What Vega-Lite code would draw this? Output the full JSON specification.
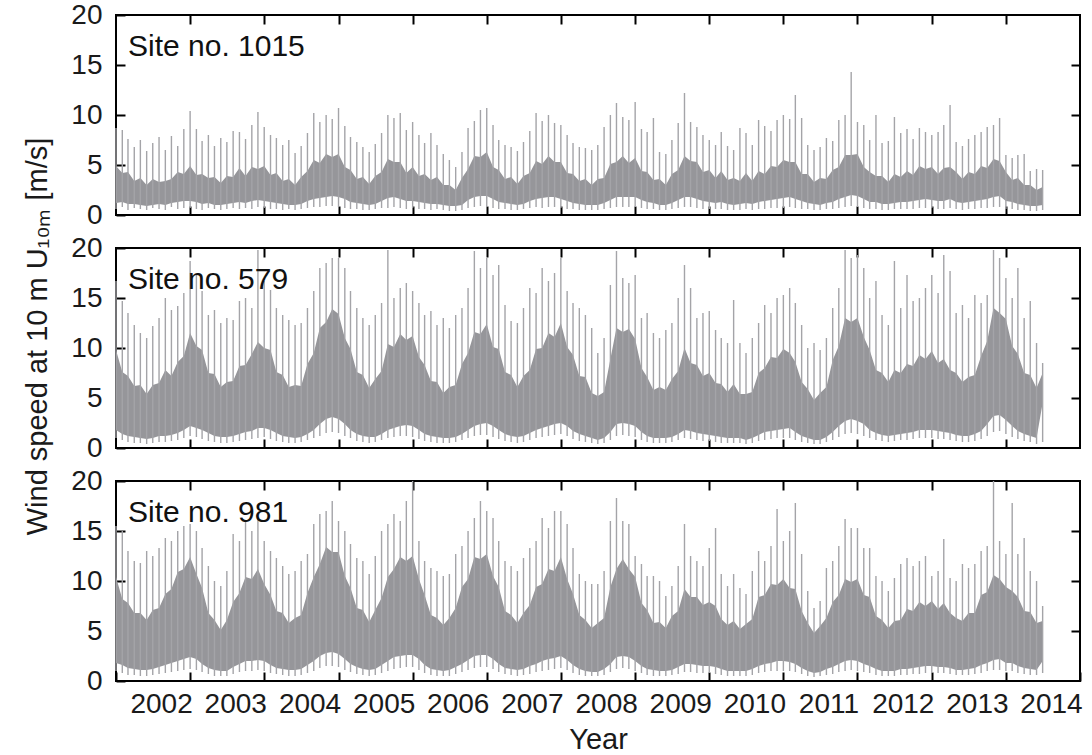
{
"$schema": "https://vega.github.io/schema/vega-lite/v6.json",
"padding": {"left": 22, "top": 0, "right": 8, "bottom": 0},
"spacing": 33,
"bounds": "flush",
"config": {
  "font": "Liberation Sans",
  "view": {"stroke": "#000", "strokeWidth": 2},
  "axis": {"domain": false, "grid": false, "ticks": true, "tickSize": -9, "tickWidth": 2, "tickColor": "#000", "labelFontSize": 28, "labelColor": "#1a1a1a", "labelFont": "Liberation Sans", "titleFont": "Liberation Sans", "titleFontSize": 29, "titleFontWeight": "normal", "titleColor": "#1a1a1a", "labelPadding": 23, "labelFlush": false, "labelOverlap": false},
  "axisBottom": {"labelPadding": 18},
  "title": {"font": "Liberation Sans", "fontSize": 30, "fontWeight": "normal", "color": "#111", "anchor": "start", "offset": -61, "dx": 12, "frame": "group"}
},
"datasets": {
"site1015": [
{"date":"2002-01","min":0.6,"low":1.2,"high":4.9,"peak":8.7},{"date":"2002-02","min":0.8,"low":1.3,"high":4.2,"peak":8.5},{"date":"2002-03","min":0.5,"low":1.1,"high":4.3,"peak":7.6},{"date":"2002-04","min":0.7,"low":1.1,"high":3.4,"peak":6.8},{"date":"2002-05","min":0.6,"low":1.0,"high":3.7,"peak":7.5},{"date":"2002-06","min":0.5,"low":0.9,"high":3.0,"peak":6.4},{"date":"2002-07","min":0.7,"low":1.0,"high":3.6,"peak":7.2},{"date":"2002-08","min":0.6,"low":1.1,"high":3.3,"peak":7.8},{"date":"2002-09","min":0.5,"low":1.0,"high":3.4,"peak":6.5},{"date":"2002-10","min":0.8,"low":1.2,"high":3.6,"peak":7.9},{"date":"2002-11","min":0.6,"low":1.3,"high":4.3,"peak":6.9},{"date":"2002-12","min":0.7,"low":1.4,"high":4.1,"peak":8.6},
{"date":"2003-01","min":0.7,"low":1.4,"high":4.9,"peak":10.4},{"date":"2003-02","min":0.6,"low":1.3,"high":4.0,"peak":8.6},{"date":"2003-03","min":0.5,"low":1.1,"high":4.1,"peak":7.4},{"date":"2003-04","min":0.7,"low":1.2,"high":3.7,"peak":8.0},{"date":"2003-05","min":0.6,"low":1.0,"high":3.8,"peak":6.9},{"date":"2003-06","min":0.5,"low":1.0,"high":3.2,"peak":7.7},{"date":"2003-07","min":0.6,"low":1.1,"high":3.9,"peak":7.3},{"date":"2003-08","min":0.7,"low":1.2,"high":3.8,"peak":8.4},{"date":"2003-09","min":0.6,"low":1.3,"high":4.7,"peak":8.3},{"date":"2003-10","min":0.7,"low":1.2,"high":3.9,"peak":7.6},{"date":"2003-11","min":0.6,"low":1.4,"high":4.8,"peak":9.0},{"date":"2003-12","min":0.8,"low":1.5,"high":4.6,"peak":10.3},
{"date":"2004-01","min":0.7,"low":1.4,"high":4.9,"peak":8.8},{"date":"2004-02","min":0.6,"low":1.3,"high":4.0,"peak":8.0},{"date":"2004-03","min":0.6,"low":1.2,"high":4.2,"peak":7.7},{"date":"2004-04","min":0.5,"low":1.1,"high":3.4,"peak":7.0},{"date":"2004-05","min":0.6,"low":1.0,"high":3.6,"peak":7.5},{"date":"2004-06","min":0.5,"low":1.0,"high":3.0,"peak":6.2},{"date":"2004-07","min":0.6,"low":1.1,"high":3.8,"peak":6.9},{"date":"2004-08","min":0.7,"low":1.4,"high":4.4,"peak":8.2},{"date":"2004-09","min":0.8,"low":1.6,"high":5.5,"peak":10.2},{"date":"2004-10","min":0.8,"low":1.7,"high":5.2,"peak":9.3},{"date":"2004-11","min":0.9,"low":1.8,"high":6.1,"peak":10.0},{"date":"2004-12","min":0.9,"low":1.9,"high":5.8,"peak":9.6},
{"date":"2005-01","min":0.8,"low":1.8,"high":6.1,"peak":10.7},{"date":"2005-02","min":0.7,"low":1.6,"high":4.8,"peak":8.9},{"date":"2005-03","min":0.6,"low":1.3,"high":4.5,"peak":7.8},{"date":"2005-04","min":0.6,"low":1.2,"high":3.6,"peak":7.3},{"date":"2005-05","min":0.5,"low":1.1,"high":3.8,"peak":6.8},{"date":"2005-06","min":0.5,"low":1.0,"high":3.1,"peak":6.3},{"date":"2005-07","min":0.6,"low":1.1,"high":3.9,"peak":7.1},{"date":"2005-08","min":0.7,"low":1.4,"high":4.3,"peak":8.2},{"date":"2005-09","min":0.7,"low":1.7,"high":5.6,"peak":10.0},{"date":"2005-10","min":0.8,"low":1.8,"high":5.3,"peak":9.7},{"date":"2005-11","min":0.7,"low":1.6,"high":5.3,"peak":10.2},{"date":"2005-12","min":0.6,"low":1.4,"high":4.2,"peak":8.5},
{"date":"2006-01","min":0.7,"low":1.4,"high":4.8,"peak":9.3},{"date":"2006-02","min":0.6,"low":1.3,"high":3.9,"peak":8.0},{"date":"2006-03","min":0.6,"low":1.2,"high":4.1,"peak":7.2},{"date":"2006-04","min":0.5,"low":1.1,"high":3.5,"peak":8.2},{"date":"2006-05","min":0.6,"low":1.1,"high":3.8,"peak":7.0},{"date":"2006-06","min":0.5,"low":1.0,"high":3.0,"peak":6.1},{"date":"2006-07","min":0.4,"low":0.9,"high":3.0,"peak":5.5},{"date":"2006-08","min":0.4,"low":0.9,"high":2.5,"peak":4.8},{"date":"2006-09","min":0.5,"low":1.0,"high":3.7,"peak":6.3},{"date":"2006-10","min":0.7,"low":1.5,"high":4.6,"peak":8.7},{"date":"2006-11","min":0.8,"low":1.8,"high":5.9,"peak":9.4},{"date":"2006-12","min":0.9,"low":1.9,"high":5.8,"peak":10.5},
{"date":"2007-01","min":0.8,"low":1.9,"high":6.3,"peak":10.7},{"date":"2007-02","min":0.7,"low":1.6,"high":4.8,"peak":9.0},{"date":"2007-03","min":0.6,"low":1.3,"high":4.5,"peak":7.5},{"date":"2007-04","min":0.6,"low":1.2,"high":3.6,"peak":7.0},{"date":"2007-05","min":0.5,"low":1.1,"high":3.8,"peak":6.8},{"date":"2007-06","min":0.5,"low":1.0,"high":3.1,"peak":6.4},{"date":"2007-07","min":0.6,"low":1.1,"high":3.9,"peak":7.3},{"date":"2007-08","min":0.7,"low":1.4,"high":4.2,"peak":8.4},{"date":"2007-09","min":0.8,"low":1.6,"high":5.4,"peak":10.2},{"date":"2007-10","min":0.7,"low":1.7,"high":5.1,"peak":9.4},{"date":"2007-11","min":0.8,"low":1.8,"high":5.9,"peak":10.0},{"date":"2007-12","min":0.8,"low":1.8,"high":5.3,"peak":9.2},
{"date":"2008-01","min":0.7,"low":1.6,"high":5.3,"peak":9.0},{"date":"2008-02","min":0.6,"low":1.4,"high":4.2,"peak":8.0},{"date":"2008-03","min":0.6,"low":1.2,"high":4.1,"peak":7.2},{"date":"2008-04","min":0.5,"low":1.1,"high":3.4,"peak":6.8},{"date":"2008-05","min":0.5,"low":1.0,"high":3.6,"peak":6.7},{"date":"2008-06","min":0.5,"low":1.0,"high":3.0,"peak":6.5},{"date":"2008-07","min":0.5,"low":1.0,"high":3.6,"peak":7.0},{"date":"2008-08","min":0.6,"low":1.2,"high":3.7,"peak":8.8},{"date":"2008-09","min":0.7,"low":1.5,"high":5.1,"peak":10.0},{"date":"2008-10","min":0.8,"low":1.8,"high":5.3,"peak":11.2},{"date":"2008-11","min":0.8,"low":1.8,"high":5.9,"peak":9.8},{"date":"2008-12","min":0.8,"low":1.8,"high":5.2,"peak":9.5},
{"date":"2009-01","min":0.8,"low":1.8,"high":5.7,"peak":11.3},{"date":"2009-02","min":0.7,"low":1.5,"high":4.4,"peak":8.6},{"date":"2009-03","min":0.6,"low":1.3,"high":4.3,"peak":8.3},{"date":"2009-04","min":0.6,"low":1.2,"high":3.5,"peak":9.7},{"date":"2009-05","min":0.5,"low":1.0,"high":3.6,"peak":6.3},{"date":"2009-06","min":0.5,"low":1.0,"high":3.0,"peak":6.1},{"date":"2009-07","min":0.6,"low":1.2,"high":4.1,"peak":7.5},{"date":"2009-08","min":0.7,"low":1.5,"high":4.5,"peak":9.2},{"date":"2009-09","min":0.8,"low":1.8,"high":5.9,"peak":12.2},{"date":"2009-10","min":0.8,"low":1.8,"high":5.4,"peak":9.3},{"date":"2009-11","min":0.7,"low":1.6,"high":5.3,"peak":8.8},{"date":"2009-12","min":0.6,"low":1.4,"high":4.3,"peak":8.0},
{"date":"2010-01","min":0.6,"low":1.3,"high":4.5,"peak":7.5},{"date":"2010-02","min":0.6,"low":1.2,"high":3.7,"peak":7.0},{"date":"2010-03","min":0.6,"low":1.3,"high":4.4,"peak":8.3},{"date":"2010-04","min":0.5,"low":1.1,"high":3.5,"peak":6.9},{"date":"2010-05","min":0.5,"low":1.0,"high":3.7,"peak":6.5},{"date":"2010-06","min":0.5,"low":1.1,"high":3.4,"peak":8.7},{"date":"2010-07","min":0.6,"low":1.2,"high":4.2,"peak":8.2},{"date":"2010-08","min":0.5,"low":1.1,"high":3.4,"peak":7.0},{"date":"2010-09","min":0.6,"low":1.3,"high":4.4,"peak":9.5},{"date":"2010-10","min":0.6,"low":1.4,"high":4.1,"peak":8.9},{"date":"2010-11","min":0.7,"low":1.5,"high":4.9,"peak":8.4},{"date":"2010-12","min":0.7,"low":1.6,"high":4.8,"peak":9.5},
{"date":"2011-01","min":0.7,"low":1.7,"high":5.5,"peak":10.0},{"date":"2011-02","min":0.8,"low":1.8,"high":5.3,"peak":9.6},{"date":"2011-03","min":0.7,"low":1.6,"high":5.3,"peak":12.0},{"date":"2011-04","min":0.6,"low":1.4,"high":4.1,"peak":9.7},{"date":"2011-05","min":0.6,"low":1.2,"high":4.1,"peak":7.0},{"date":"2011-06","min":0.5,"low":1.1,"high":3.3,"peak":6.5},{"date":"2011-07","min":0.5,"low":1.0,"high":3.7,"peak":6.8},{"date":"2011-08","min":0.6,"low":1.2,"high":3.6,"peak":7.7},{"date":"2011-09","min":0.6,"low":1.3,"high":4.5,"peak":7.4},{"date":"2011-10","min":0.7,"low":1.6,"high":4.8,"peak":9.5},{"date":"2011-11","min":0.8,"low":1.8,"high":6.0,"peak":10.0},{"date":"2011-12","min":0.9,"low":2.0,"high":6.0,"peak":14.3},
{"date":"2012-01","min":0.8,"low":1.9,"high":6.1,"peak":9.3},{"date":"2012-02","min":0.7,"low":1.6,"high":4.8,"peak":9.0},{"date":"2012-03","min":0.6,"low":1.3,"high":4.3,"peak":7.5},{"date":"2012-04","min":0.6,"low":1.3,"high":3.9,"peak":10.0},{"date":"2012-05","min":0.5,"low":1.1,"high":3.9,"peak":7.2},{"date":"2012-06","min":0.5,"low":1.1,"high":3.3,"peak":7.4},{"date":"2012-07","min":0.6,"low":1.2,"high":4.1,"peak":9.8},{"date":"2012-08","min":0.6,"low":1.3,"high":3.8,"peak":8.2},{"date":"2012-09","min":0.6,"low":1.3,"high":4.4,"peak":8.6},{"date":"2012-10","min":0.6,"low":1.4,"high":4.0,"peak":7.6},{"date":"2012-11","min":0.7,"low":1.5,"high":4.9,"peak":8.7},{"date":"2012-12","min":0.7,"low":1.6,"high":4.6,"peak":8.3},
{"date":"2013-01","min":0.7,"low":1.5,"high":4.8,"peak":8.0},{"date":"2013-02","min":0.6,"low":1.4,"high":4.1,"peak":8.3},{"date":"2013-03","min":0.6,"low":1.4,"high":4.7,"peak":9.0},{"date":"2013-04","min":0.7,"low":1.6,"high":4.8,"peak":11.0},{"date":"2013-05","min":0.6,"low":1.3,"high":4.3,"peak":7.3},{"date":"2013-06","min":0.5,"low":1.2,"high":3.6,"peak":6.9},{"date":"2013-07","min":0.6,"low":1.3,"high":4.3,"peak":7.6},{"date":"2013-08","min":0.6,"low":1.4,"high":4.1,"peak":8.0},{"date":"2013-09","min":0.7,"low":1.5,"high":4.9,"peak":8.3},{"date":"2013-10","min":0.7,"low":1.6,"high":4.7,"peak":8.8},{"date":"2013-11","min":0.8,"low":1.8,"high":5.6,"peak":9.0},{"date":"2013-12","min":0.8,"low":1.9,"high":5.4,"peak":9.7},
{"date":"2014-01","min":0.6,"low":1.4,"high":4.3,"peak":6.0},{"date":"2014-02","min":0.6,"low":1.3,"high":3.5,"peak":5.7},{"date":"2014-03","min":0.5,"low":1.1,"high":3.7,"peak":6.0},{"date":"2014-04","min":0.5,"low":1.0,"high":3.0,"peak":6.1},{"date":"2014-05","min":0.4,"low":0.9,"high":3.0,"peak":4.4},{"date":"2014-06","min":0.4,"low":0.9,"high":2.5,"peak":4.6},{"date":"2014-07","min":0.5,"low":1.0,"high":2.8,"peak":4.5}
],
"site579": [
{"date":"2002-01","min":1.0,"low":1.8,"high":9.8,"peak":16.7},{"date":"2002-02","min":0.8,"low":1.4,"high":7.6,"peak":14.7},{"date":"2002-03","min":0.6,"low":1.2,"high":7.2,"peak":13.5},{"date":"2002-04","min":0.5,"low":1.1,"high":6.2,"peak":12.3},{"date":"2002-05","min":0.5,"low":1.0,"high":6.3,"peak":11.5},{"date":"2002-06","min":0.4,"low":0.9,"high":5.4,"peak":11.0},{"date":"2002-07","min":0.5,"low":1.0,"high":6.3,"peak":12.2},{"date":"2002-08","min":0.6,"low":1.2,"high":6.5,"peak":13.0},{"date":"2002-09","min":0.6,"low":1.2,"high":7.8,"peak":15.0},{"date":"2002-10","min":0.7,"low":1.3,"high":7.2,"peak":13.8},{"date":"2002-11","min":0.8,"low":1.5,"high":8.6,"peak":14.2},{"date":"2002-12","min":1.0,"low":1.8,"high":9.2,"peak":15.5},
{"date":"2003-01","min":1.2,"low":2.2,"high":11.5,"peak":18.7},{"date":"2003-02","min":1.1,"low":2.0,"high":10.2,"peak":17.3},{"date":"2003-03","min":0.9,"low":1.8,"high":9.8,"peak":15.7},{"date":"2003-04","min":0.7,"low":1.5,"high":7.5,"peak":13.3},{"date":"2003-05","min":0.6,"low":1.2,"high":7.4,"peak":13.8},{"date":"2003-06","min":0.5,"low":1.1,"high":6.1,"peak":12.5},{"date":"2003-07","min":0.5,"low":1.1,"high":6.6,"peak":13.0},{"date":"2003-08","min":0.6,"low":1.2,"high":6.7,"peak":12.8},{"date":"2003-09","min":0.7,"low":1.4,"high":8.2,"peak":14.7},{"date":"2003-10","min":0.8,"low":1.6,"high":8.3,"peak":15.0},{"date":"2003-11","min":0.9,"low":1.7,"high":9.4,"peak":14.0},{"date":"2003-12","min":1.0,"low":2.0,"high":10.6,"peak":19.8},
{"date":"2004-01","min":1.1,"low":2.0,"high":10.0,"peak":16.7},{"date":"2004-02","min":0.9,"low":1.8,"high":9.8,"peak":15.8},{"date":"2004-03","min":0.7,"low":1.5,"high":7.6,"peak":14.0},{"date":"2004-04","min":0.6,"low":1.2,"high":7.3,"peak":13.3},{"date":"2004-05","min":0.5,"low":1.1,"high":6.1,"peak":12.8},{"date":"2004-06","min":0.5,"low":1.0,"high":6.3,"peak":12.3},{"date":"2004-07","min":0.6,"low":1.1,"high":6.2,"peak":12.5},{"date":"2004-08","min":0.8,"low":1.4,"high":8.4,"peak":14.0},{"date":"2004-09","min":1.0,"low":1.8,"high":9.5,"peak":15.7},{"date":"2004-10","min":1.2,"low":2.4,"high":12.0,"peak":18.0},{"date":"2004-11","min":1.5,"low":2.9,"high":12.6,"peak":18.5},{"date":"2004-12","min":1.6,"low":3.1,"high":13.9,"peak":19.0},
{"date":"2005-01","min":1.5,"low":2.9,"high":13.4,"peak":19.0},{"date":"2005-02","min":1.2,"low":2.4,"high":11.0,"peak":18.0},{"date":"2005-03","min":1.0,"low":1.8,"high":9.9,"peak":15.7},{"date":"2005-04","min":0.7,"low":1.4,"high":7.6,"peak":14.0},{"date":"2005-05","min":0.6,"low":1.2,"high":7.3,"peak":13.0},{"date":"2005-06","min":0.5,"low":1.1,"high":6.0,"peak":12.3},{"date":"2005-07","min":0.6,"low":1.1,"high":6.9,"peak":13.3},{"date":"2005-08","min":0.8,"low":1.4,"high":7.7,"peak":14.5},{"date":"2005-09","min":1.0,"low":1.8,"high":10.4,"peak":19.8},{"date":"2005-10","min":1.1,"low":2.0,"high":10.1,"peak":15.0},{"date":"2005-11","min":1.2,"low":2.2,"high":11.4,"peak":16.0},{"date":"2005-12","min":1.2,"low":2.3,"high":10.8,"peak":16.5},
{"date":"2006-01","min":1.1,"low":2.2,"high":11.2,"peak":15.7},{"date":"2006-02","min":0.9,"low":1.8,"high":9.1,"peak":14.5},{"date":"2006-03","min":0.7,"low":1.4,"high":8.3,"peak":13.3},{"date":"2006-04","min":0.6,"low":1.2,"high":6.7,"peak":13.7},{"date":"2006-05","min":0.5,"low":1.1,"high":6.6,"peak":12.3},{"date":"2006-06","min":0.5,"low":1.0,"high":5.5,"peak":13.0},{"date":"2006-07","min":0.5,"low":1.0,"high":6.1,"peak":12.0},{"date":"2006-08","min":0.6,"low":1.1,"high":6.3,"peak":13.3},{"date":"2006-09","min":0.8,"low":1.4,"high":8.4,"peak":14.0},{"date":"2006-10","min":1.0,"low":1.8,"high":9.5,"peak":16.0},{"date":"2006-11","min":1.2,"low":2.2,"high":11.6,"peak":19.7},{"date":"2006-12","min":1.3,"low":2.4,"high":11.4,"peak":18.0},
{"date":"2007-01","min":1.3,"low":2.5,"high":12.4,"peak":19.0},{"date":"2007-02","min":1.1,"low":2.2,"high":10.1,"peak":17.3},{"date":"2007-03","min":0.9,"low":1.8,"high":9.9,"peak":18.3},{"date":"2007-04","min":0.7,"low":1.4,"high":7.6,"peak":14.3},{"date":"2007-05","min":0.6,"low":1.2,"high":7.3,"peak":12.7},{"date":"2007-06","min":0.5,"low":1.1,"high":6.1,"peak":12.5},{"date":"2007-07","min":0.6,"low":1.2,"high":7.2,"peak":14.0},{"date":"2007-08","min":0.8,"low":1.5,"high":7.8,"peak":16.0},{"date":"2007-09","min":1.0,"low":1.8,"high":9.9,"peak":15.5},{"date":"2007-10","min":1.1,"low":2.0,"high":10.0,"peak":18.0},{"date":"2007-11","min":1.2,"low":2.2,"high":11.5,"peak":16.7},{"date":"2007-12","min":1.3,"low":2.4,"high":11.1,"peak":17.5},
{"date":"2008-01","min":1.4,"low":2.5,"high":12.5,"peak":19.0},{"date":"2008-02","min":1.2,"low":2.2,"high":10.1,"peak":15.7},{"date":"2008-03","min":0.9,"low":1.7,"high":9.3,"peak":14.5},{"date":"2008-04","min":0.7,"low":1.4,"high":7.2,"peak":14.0},{"date":"2008-05","min":0.6,"low":1.2,"high":7.1,"peak":13.3},{"date":"2008-06","min":0.5,"low":1.0,"high":5.5,"peak":12.0},{"date":"2008-07","min":0.4,"low":0.8,"high":5.2,"peak":9.5},{"date":"2008-08","min":0.5,"low":1.0,"high":5.6,"peak":11.0},{"date":"2008-09","min":0.8,"low":1.6,"high":8.9,"peak":16.3},{"date":"2008-10","min":1.2,"low":2.4,"high":12.0,"peak":19.7},{"date":"2008-11","min":1.3,"low":2.5,"high":11.6,"peak":17.0},{"date":"2008-12","min":1.2,"low":2.4,"high":11.9,"peak":16.5},
{"date":"2009-01","min":1.1,"low":2.2,"high":10.9,"peak":17.3},{"date":"2009-02","min":0.8,"low":1.6,"high":8.0,"peak":13.0},{"date":"2009-03","min":0.6,"low":1.2,"high":7.1,"peak":13.5},{"date":"2009-04","min":0.5,"low":1.0,"high":5.8,"peak":11.5},{"date":"2009-05","min":0.5,"low":1.0,"high":6.1,"peak":11.0},{"date":"2009-06","min":0.5,"low":1.0,"high":5.8,"peak":11.8},{"date":"2009-07","min":0.6,"low":1.1,"high":6.9,"peak":12.5},{"date":"2009-08","min":0.8,"low":1.4,"high":7.7,"peak":15.0},{"date":"2009-09","min":1.0,"low":1.8,"high":10.0,"peak":18.3},{"date":"2009-10","min":0.9,"low":1.7,"high":8.5,"peak":16.0},{"date":"2009-11","min":0.8,"low":1.5,"high":8.3,"peak":13.0},{"date":"2009-12","min":0.7,"low":1.4,"high":7.2,"peak":13.5},
{"date":"2010-01","min":0.7,"low":1.3,"high":7.5,"peak":13.7},{"date":"2010-02","min":0.6,"low":1.2,"high":6.5,"peak":11.8},{"date":"2010-03","min":0.5,"low":1.1,"high":6.4,"peak":11.0},{"date":"2010-04","min":0.5,"low":1.0,"high":5.6,"peak":10.5},{"date":"2010-05","min":0.5,"low":1.0,"high":6.4,"peak":14.8},{"date":"2010-06","min":0.5,"low":1.0,"high":5.4,"peak":10.5},{"date":"2010-07","min":0.4,"low":0.8,"high":5.4,"peak":9.5},{"date":"2010-08","min":0.5,"low":1.0,"high":5.6,"peak":11.0},{"date":"2010-09","min":0.7,"low":1.3,"high":7.5,"peak":12.5},{"date":"2010-10","min":0.8,"low":1.6,"high":8.0,"peak":14.3},{"date":"2010-11","min":0.9,"low":1.7,"high":9.1,"peak":13.5},{"date":"2010-12","min":1.0,"low":1.8,"high":9.0,"peak":15.0},
{"date":"2011-01","min":1.0,"low":1.9,"high":9.9,"peak":15.3},{"date":"2011-02","min":1.0,"low":2.0,"high":9.5,"peak":16.0},{"date":"2011-03","min":0.8,"low":1.6,"high":8.6,"peak":14.5},{"date":"2011-04","min":0.6,"low":1.2,"high":6.6,"peak":12.3},{"date":"2011-05","min":0.5,"low":1.0,"high":5.9,"peak":10.0},{"date":"2011-06","min":0.4,"low":0.8,"high":4.8,"peak":10.5},{"date":"2011-07","min":0.4,"low":0.8,"high":5.5,"peak":9.8},{"date":"2011-08","min":0.6,"low":1.1,"high":6.1,"peak":11.0},{"date":"2011-09","min":0.8,"low":1.6,"high":8.8,"peak":14.0},{"date":"2011-10","min":1.1,"low":2.2,"high":10.2,"peak":16.0},{"date":"2011-11","min":1.4,"low":2.7,"high":13.0,"peak":19.8},{"date":"2011-12","min":1.5,"low":2.9,"high":12.6,"peak":19.0},
{"date":"2012-01","min":1.4,"low":2.7,"high":13.0,"peak":19.3},{"date":"2012-02","min":1.2,"low":2.4,"high":11.1,"peak":18.0},{"date":"2012-03","min":1.0,"low":1.8,"high":9.8,"peak":15.0},{"date":"2012-04","min":0.8,"low":1.5,"high":7.8,"peak":16.7},{"date":"2012-05","min":0.7,"low":1.3,"high":7.5,"peak":13.3},{"date":"2012-06","min":0.6,"low":1.2,"high":6.6,"peak":12.3},{"date":"2012-07","min":0.7,"low":1.3,"high":7.8,"peak":18.7},{"date":"2012-08","min":0.8,"low":1.4,"high":7.5,"peak":14.0},{"date":"2012-09","min":0.8,"low":1.5,"high":8.4,"peak":17.3},{"date":"2012-10","min":0.9,"low":1.6,"high":8.2,"peak":14.7},{"date":"2012-11","min":1.0,"low":1.8,"high":9.3,"peak":15.0},{"date":"2012-12","min":1.0,"low":1.8,"high":8.9,"peak":16.0},
{"date":"2013-01","min":1.0,"low":1.8,"high":9.7,"peak":17.3},{"date":"2013-02","min":0.9,"low":1.7,"high":8.5,"peak":15.5},{"date":"2013-03","min":0.9,"low":1.6,"high":8.9,"peak":19.3},{"date":"2013-04","min":0.8,"low":1.5,"high":7.8,"peak":17.7},{"date":"2013-05","min":0.7,"low":1.3,"high":7.5,"peak":13.5},{"date":"2013-06","min":0.6,"low":1.2,"high":6.6,"peak":14.3},{"date":"2013-07","min":0.6,"low":1.2,"high":7.1,"peak":13.0},{"date":"2013-08","min":0.7,"low":1.4,"high":7.3,"peak":15.3},{"date":"2013-09","min":0.9,"low":1.7,"high":9.2,"peak":14.5},{"date":"2013-10","min":1.2,"low":2.4,"high":10.7,"peak":15.3},{"date":"2013-11","min":1.6,"low":3.2,"high":14.0,"peak":19.8},{"date":"2013-12","min":1.7,"low":3.3,"high":13.5,"peak":19.0},
{"date":"2014-01","min":1.4,"low":2.8,"high":12.9,"peak":17.0},{"date":"2014-02","min":1.1,"low":2.2,"high":10.2,"peak":15.0},{"date":"2014-03","min":0.9,"low":1.7,"high":9.4,"peak":18.0},{"date":"2014-04","min":0.7,"low":1.4,"high":7.5,"peak":13.0},{"date":"2014-05","min":0.6,"low":1.2,"high":7.3,"peak":14.7},{"date":"2014-06","min":0.4,"low":1.0,"high":6.0,"peak":10.5},{"date":"2014-07","min":0.6,"low":4.5,"high":7.5,"peak":8.5}
],
"site981": [
{"date":"2002-01","min":1.0,"low":1.8,"high":10.4,"peak":15.5},{"date":"2002-02","min":0.8,"low":1.6,"high":8.2,"peak":15.0},{"date":"2002-03","min":0.6,"low":1.3,"high":7.8,"peak":13.0},{"date":"2002-04","min":0.6,"low":1.2,"high":6.8,"peak":12.0},{"date":"2002-05","min":0.5,"low":1.1,"high":6.8,"peak":11.8},{"date":"2002-06","min":0.5,"low":1.1,"high":6.1,"peak":13.0},{"date":"2002-07","min":0.6,"low":1.2,"high":7.1,"peak":12.5},{"date":"2002-08","min":0.7,"low":1.4,"high":7.3,"peak":13.3},{"date":"2002-09","min":0.8,"low":1.6,"high":8.7,"peak":14.3},{"date":"2002-10","min":0.9,"low":1.8,"high":9.2,"peak":14.0},{"date":"2002-11","min":1.0,"low":2.0,"high":10.9,"peak":15.0},{"date":"2002-12","min":1.1,"low":2.2,"high":11.2,"peak":15.5},
{"date":"2003-01","min":1.2,"low":2.4,"high":12.4,"peak":15.7},{"date":"2003-02","min":1.1,"low":2.2,"high":10.7,"peak":15.0},{"date":"2003-03","min":0.9,"low":1.7,"high":9.3,"peak":13.3},{"date":"2003-04","min":0.7,"low":1.3,"high":6.8,"peak":11.5},{"date":"2003-05","min":0.5,"low":1.1,"high":6.1,"peak":10.0},{"date":"2003-06","min":0.5,"low":1.0,"high":5.1,"peak":9.5},{"date":"2003-07","min":0.5,"low":1.0,"high":6.1,"peak":11.0},{"date":"2003-08","min":0.7,"low":1.4,"high":7.9,"peak":14.7},{"date":"2003-09","min":0.9,"low":1.7,"high":8.8,"peak":14.0},{"date":"2003-10","min":1.0,"low":2.0,"high":10.4,"peak":16.0},{"date":"2003-11","min":1.0,"low":2.0,"high":10.2,"peak":15.0},{"date":"2003-12","min":1.1,"low":2.1,"high":11.2,"peak":16.3},
{"date":"2004-01","min":1.0,"low":2.0,"high":9.7,"peak":14.0},{"date":"2004-02","min":0.8,"low":1.6,"high":8.6,"peak":13.0},{"date":"2004-03","min":0.7,"low":1.3,"high":7.0,"peak":12.3},{"date":"2004-04","min":0.6,"low":1.2,"high":6.8,"peak":11.5},{"date":"2004-05","min":0.5,"low":1.1,"high":5.8,"peak":10.7},{"date":"2004-06","min":0.5,"low":1.1,"high":6.3,"peak":11.0},{"date":"2004-07","min":0.6,"low":1.2,"high":6.6,"peak":12.0},{"date":"2004-08","min":0.8,"low":1.6,"high":8.8,"peak":12.7},{"date":"2004-09","min":1.0,"low":2.0,"high":10.4,"peak":15.7},{"date":"2004-10","min":1.3,"low":2.5,"high":11.7,"peak":16.7},{"date":"2004-11","min":1.5,"low":2.8,"high":13.4,"peak":17.0},{"date":"2004-12","min":1.5,"low":2.9,"high":12.9,"peak":18.0},
{"date":"2005-01","min":1.4,"low":2.7,"high":12.9,"peak":16.0},{"date":"2005-02","min":1.1,"low":2.2,"high":10.5,"peak":15.0},{"date":"2005-03","min":0.9,"low":1.7,"high":9.3,"peak":13.7},{"date":"2005-04","min":0.7,"low":1.4,"high":7.3,"peak":12.3},{"date":"2005-05","min":0.6,"low":1.2,"high":7.1,"peak":12.0},{"date":"2005-06","min":0.5,"low":1.1,"high":5.9,"peak":10.7},{"date":"2005-07","min":0.6,"low":1.2,"high":7.1,"peak":12.5},{"date":"2005-08","min":0.8,"low":1.6,"high":8.3,"peak":15.0},{"date":"2005-09","min":1.0,"low":2.0,"high":10.4,"peak":15.7},{"date":"2005-10","min":1.2,"low":2.4,"high":11.2,"peak":16.7},{"date":"2005-11","min":1.3,"low":2.5,"high":12.4,"peak":16.0},{"date":"2005-12","min":1.4,"low":2.6,"high":12.0,"peak":18.0},
{"date":"2006-01","min":1.4,"low":2.6,"high":12.5,"peak":20.0},{"date":"2006-02","min":1.1,"low":2.2,"high":10.2,"peak":14.0},{"date":"2006-03","min":0.8,"low":1.6,"high":8.6,"peak":12.0},{"date":"2006-04","min":0.6,"low":1.2,"high":6.6,"peak":11.3},{"date":"2006-05","min":0.5,"low":1.1,"high":6.3,"peak":11.0},{"date":"2006-06","min":0.5,"low":1.0,"high":5.6,"peak":10.5},{"date":"2006-07","min":0.5,"low":1.1,"high":6.3,"peak":10.7},{"date":"2006-08","min":0.7,"low":1.4,"high":7.3,"peak":12.7},{"date":"2006-09","min":0.9,"low":1.7,"high":9.4,"peak":13.5},{"date":"2006-10","min":1.1,"low":2.1,"high":10.2,"peak":15.0},{"date":"2006-11","min":1.3,"low":2.5,"high":12.4,"peak":16.3},{"date":"2006-12","min":1.4,"low":2.6,"high":12.2,"peak":18.0},
{"date":"2007-01","min":1.4,"low":2.6,"high":12.7,"peak":17.0},{"date":"2007-02","min":1.2,"low":2.2,"high":10.5,"peak":16.3},{"date":"2007-03","min":0.9,"low":1.7,"high":9.4,"peak":14.0},{"date":"2007-04","min":0.7,"low":1.3,"high":7.0,"peak":12.0},{"date":"2007-05","min":0.6,"low":1.2,"high":6.6,"peak":11.5},{"date":"2007-06","min":0.5,"low":1.1,"high":5.8,"peak":11.0},{"date":"2007-07","min":0.6,"low":1.2,"high":6.8,"peak":12.3},{"date":"2007-08","min":0.7,"low":1.5,"high":7.6,"peak":13.3},{"date":"2007-09","min":0.9,"low":1.7,"high":9.4,"peak":14.0},{"date":"2007-10","min":1.0,"low":2.0,"high":9.7,"peak":16.3},{"date":"2007-11","min":1.1,"low":2.2,"high":11.2,"peak":15.3},{"date":"2007-12","min":1.2,"low":2.3,"high":11.0,"peak":17.0},
{"date":"2008-01","min":1.3,"low":2.5,"high":12.4,"peak":17.0},{"date":"2008-02","min":1.1,"low":2.1,"high":10.2,"peak":15.7},{"date":"2008-03","min":0.8,"low":1.6,"high":8.7,"peak":13.3},{"date":"2008-04","min":0.6,"low":1.2,"high":6.6,"peak":10.7},{"date":"2008-05","min":0.5,"low":1.0,"high":6.1,"peak":10.0},{"date":"2008-06","min":0.5,"low":0.9,"high":5.3,"peak":9.7},{"date":"2008-07","min":0.5,"low":0.9,"high":5.8,"peak":9.7},{"date":"2008-08","min":0.6,"low":1.2,"high":6.3,"peak":11.0},{"date":"2008-09","min":0.9,"low":1.7,"high":9.4,"peak":16.0},{"date":"2008-10","min":1.2,"low":2.4,"high":11.2,"peak":18.3},{"date":"2008-11","min":1.3,"low":2.5,"high":12.2,"peak":16.0},{"date":"2008-12","min":1.2,"low":2.4,"high":11.2,"peak":15.7},
{"date":"2009-01","min":1.0,"low":2.0,"high":10.4,"peak":12.5},{"date":"2009-02","min":0.8,"low":1.5,"high":7.8,"peak":11.7},{"date":"2009-03","min":0.6,"low":1.2,"high":7.1,"peak":10.5},{"date":"2009-04","min":0.5,"low":1.1,"high":5.8,"peak":10.5},{"date":"2009-05","min":0.5,"low":1.0,"high":5.9,"peak":10.0},{"date":"2009-06","min":0.5,"low":1.0,"high":5.3,"peak":8.5},{"date":"2009-07","min":0.6,"low":1.1,"high":6.5,"peak":9.5},{"date":"2009-08","min":0.7,"low":1.4,"high":7.0,"peak":11.5},{"date":"2009-09","min":0.9,"low":1.7,"high":9.2,"peak":15.7},{"date":"2009-10","min":0.9,"low":1.7,"high":8.4,"peak":12.5},{"date":"2009-11","min":0.8,"low":1.6,"high":8.4,"peak":12.0},{"date":"2009-12","min":0.8,"low":1.5,"high":7.6,"peak":11.5},
{"date":"2010-01","min":0.8,"low":1.5,"high":7.9,"peak":13.3},{"date":"2010-02","min":0.7,"low":1.4,"high":7.5,"peak":15.3},{"date":"2010-03","min":0.6,"low":1.2,"high":6.2,"peak":10.7},{"date":"2010-04","min":0.5,"low":1.0,"high":5.6,"peak":9.5},{"date":"2010-05","min":0.5,"low":1.0,"high":6.0,"peak":10.7},{"date":"2010-06","min":0.5,"low":1.0,"high":5.2,"peak":9.3},{"date":"2010-07","min":0.5,"low":1.0,"high":5.7,"peak":8.7},{"date":"2010-08","min":0.6,"low":1.2,"high":6.2,"peak":11.0},{"date":"2010-09","min":0.8,"low":1.5,"high":8.4,"peak":13.0},{"date":"2010-10","min":0.9,"low":1.7,"high":8.6,"peak":12.0},{"date":"2010-11","min":1.0,"low":1.8,"high":9.7,"peak":13.5},{"date":"2010-12","min":1.0,"low":2.0,"high":9.6,"peak":17.2},
{"date":"2011-01","min":1.0,"low":2.0,"high":10.2,"peak":14.0},{"date":"2011-02","min":1.0,"low":1.9,"high":9.3,"peak":15.0},{"date":"2011-03","min":0.9,"low":1.7,"high":9.2,"peak":17.8},{"date":"2011-04","min":0.7,"low":1.3,"high":7.0,"peak":12.7},{"date":"2011-05","min":0.5,"low":1.0,"high":5.8,"peak":9.0},{"date":"2011-06","min":0.4,"low":0.8,"high":4.8,"peak":7.3},{"date":"2011-07","min":0.5,"low":0.9,"high":5.5,"peak":8.0},{"date":"2011-08","min":0.6,"low":1.2,"high":6.3,"peak":11.3},{"date":"2011-09","min":0.7,"low":1.4,"high":7.9,"peak":12.0},{"date":"2011-10","min":0.9,"low":1.7,"high":8.6,"peak":13.5},{"date":"2011-11","min":1.0,"low":2.0,"high":10.2,"peak":16.2},{"date":"2011-12","min":1.1,"low":2.1,"high":9.9,"peak":15.3},
{"date":"2012-01","min":1.0,"low":2.0,"high":10.2,"peak":15.3},{"date":"2012-02","min":0.9,"low":1.7,"high":8.6,"peak":13.3},{"date":"2012-03","min":0.8,"low":1.5,"high":8.4,"peak":13.3},{"date":"2012-04","min":0.6,"low":1.2,"high":6.5,"peak":10.5},{"date":"2012-05","min":0.5,"low":1.0,"high":6.1,"peak":10.0},{"date":"2012-06","min":0.5,"low":1.0,"high":5.3,"peak":9.0},{"date":"2012-07","min":0.5,"low":1.0,"high":6.0,"peak":10.3},{"date":"2012-08","min":0.6,"low":1.2,"high":6.1,"peak":11.7},{"date":"2012-09","min":0.6,"low":1.2,"high":7.2,"peak":12.3},{"date":"2012-10","min":0.7,"low":1.3,"high":7.0,"peak":11.5},{"date":"2012-11","min":0.7,"low":1.4,"high":7.9,"peak":12.0},{"date":"2012-12","min":0.8,"low":1.5,"high":7.5,"peak":12.5},
{"date":"2013-01","min":0.8,"low":1.5,"high":8.0,"peak":10.5},{"date":"2013-02","min":0.8,"low":1.4,"high":7.2,"peak":11.0},{"date":"2013-03","min":0.8,"low":1.4,"high":7.8,"peak":14.2},{"date":"2013-04","min":0.7,"low":1.3,"high":6.8,"peak":10.3},{"date":"2013-05","min":0.6,"low":1.1,"high":6.3,"peak":10.0},{"date":"2013-06","min":0.6,"low":1.1,"high":6.0,"peak":11.7},{"date":"2013-07","min":0.6,"low":1.2,"high":6.8,"peak":11.3},{"date":"2013-08","min":0.7,"low":1.3,"high":6.8,"peak":11.7},{"date":"2013-09","min":0.8,"low":1.6,"high":8.6,"peak":13.0},{"date":"2013-10","min":1.0,"low":1.8,"high":8.9,"peak":13.5},{"date":"2013-11","min":1.1,"low":2.1,"high":10.6,"peak":20.0},{"date":"2013-12","min":1.1,"low":2.2,"high":10.2,"peak":14.0},
{"date":"2014-01","min":1.0,"low":1.8,"high":9.4,"peak":12.7},{"date":"2014-02","min":1.0,"low":1.8,"high":9.0,"peak":17.8},{"date":"2014-03","min":0.8,"low":1.5,"high":8.4,"peak":12.7},{"date":"2014-04","min":0.7,"low":1.3,"high":7.0,"peak":14.3},{"date":"2014-05","min":0.6,"low":1.2,"high":6.9,"peak":11.0},{"date":"2014-06","min":0.6,"low":1.1,"high":5.8,"peak":10.0},{"date":"2014-07","min":0.8,"low":2.0,"high":6.0,"peak":7.5}
]
},
"vconcat": [
{
 "width": 964, "height": 200,
 "data": {"name": "site1015"},
 "title": {"text": "Site no. 1015"},
 "layer": [
  {"mark": {"type": "area", "color": "#96969a"},
   "encoding": {
    "x": {"field": "date", "type": "temporal", "scale": {"type": "utc", "domain": [{"year":2002,"month":1,"date":1,"utc":true},{"year":2015,"month":1,"date":1,"utc":true}]},
      "axis": {"orient": "bottom", "labels": false, "title": null, "values": [{"year":2003,"month":1,"date":1,"utc":true},{"year":2004,"month":1,"date":1,"utc":true},{"year":2005,"month":1,"date":1,"utc":true},{"year":2006,"month":1,"date":1,"utc":true},{"year":2007,"month":1,"date":1,"utc":true},{"year":2008,"month":1,"date":1,"utc":true},{"year":2009,"month":1,"date":1,"utc":true},{"year":2010,"month":1,"date":1,"utc":true},{"year":2011,"month":1,"date":1,"utc":true},{"year":2012,"month":1,"date":1,"utc":true},{"year":2013,"month":1,"date":1,"utc":true},{"year":2014,"month":1,"date":1,"utc":true}]}},
    "y": {"field": "low", "type": "quantitative", "scale": {"domain": [0, 20], "nice": false}, "axis": {"orient": "left", "values": [0,5,10,15,20], "title": "Wind speed at 10 m U₁₀ₘ [m/s]", "titlePadding": 18, "titleY": 321}},
    "y2": {"field": "high"}
   }},
  {"mark": {"type": "rule", "color": "#a4a4a8", "strokeWidth": 1.4},
   "encoding": {
    "x": {"field": "date", "type": "temporal", "axis": {"orient": "top", "labels": false, "title": null, "values": [{"year":2003,"month":1,"date":1,"utc":true},{"year":2004,"month":1,"date":1,"utc":true},{"year":2005,"month":1,"date":1,"utc":true},{"year":2006,"month":1,"date":1,"utc":true},{"year":2007,"month":1,"date":1,"utc":true},{"year":2008,"month":1,"date":1,"utc":true},{"year":2009,"month":1,"date":1,"utc":true},{"year":2010,"month":1,"date":1,"utc":true},{"year":2011,"month":1,"date":1,"utc":true},{"year":2012,"month":1,"date":1,"utc":true},{"year":2013,"month":1,"date":1,"utc":true},{"year":2014,"month":1,"date":1,"utc":true}]}},
    "y": {"field": "min", "type": "quantitative", "axis": {"orient": "right", "labels": false, "title": null, "values": [5,10,15]}},
    "y2": {"field": "peak"}
   }}
 ],
 "resolve": {"axis": {"x": "independent", "y": "independent"}}
},
{
 "width": 964, "height": 200,
 "data": {"name": "site579"},
 "title": {"text": "Site no. 579"},
 "layer": [
  {"mark": {"type": "area", "color": "#96969a"},
   "encoding": {
    "x": {"field": "date", "type": "temporal", "scale": {"type": "utc", "domain": [{"year":2002,"month":1,"date":1,"utc":true},{"year":2015,"month":1,"date":1,"utc":true}]},
      "axis": {"orient": "bottom", "labels": false, "title": null, "values": [{"year":2003,"month":1,"date":1,"utc":true},{"year":2004,"month":1,"date":1,"utc":true},{"year":2005,"month":1,"date":1,"utc":true},{"year":2006,"month":1,"date":1,"utc":true},{"year":2007,"month":1,"date":1,"utc":true},{"year":2008,"month":1,"date":1,"utc":true},{"year":2009,"month":1,"date":1,"utc":true},{"year":2010,"month":1,"date":1,"utc":true},{"year":2011,"month":1,"date":1,"utc":true},{"year":2012,"month":1,"date":1,"utc":true},{"year":2013,"month":1,"date":1,"utc":true},{"year":2014,"month":1,"date":1,"utc":true}]}},
    "y": {"field": "low", "type": "quantitative", "scale": {"domain": [0, 20], "nice": false}, "axis": {"orient": "left", "values": [0,5,10,15,20], "title": null}},
    "y2": {"field": "high"}
   }},
  {"mark": {"type": "rule", "color": "#a4a4a8", "strokeWidth": 1.4},
   "encoding": {
    "x": {"field": "date", "type": "temporal", "axis": {"orient": "top", "labels": false, "title": null, "values": [{"year":2003,"month":1,"date":1,"utc":true},{"year":2004,"month":1,"date":1,"utc":true},{"year":2005,"month":1,"date":1,"utc":true},{"year":2006,"month":1,"date":1,"utc":true},{"year":2007,"month":1,"date":1,"utc":true},{"year":2008,"month":1,"date":1,"utc":true},{"year":2009,"month":1,"date":1,"utc":true},{"year":2010,"month":1,"date":1,"utc":true},{"year":2011,"month":1,"date":1,"utc":true},{"year":2012,"month":1,"date":1,"utc":true},{"year":2013,"month":1,"date":1,"utc":true},{"year":2014,"month":1,"date":1,"utc":true}]}},
    "y": {"field": "min", "type": "quantitative", "axis": {"orient": "right", "labels": false, "title": null, "values": [5,10,15]}},
    "y2": {"field": "peak"}
   }}
 ],
 "resolve": {"axis": {"x": "independent", "y": "independent"}}
},
{
 "width": 964, "height": 200,
 "data": {"name": "site981"},
 "title": {"text": "Site no. 981"},
 "layer": [
  {"mark": {"type": "area", "color": "#96969a"},
   "encoding": {
    "x": {"field": "date", "type": "temporal", "scale": {"type": "utc", "domain": [{"year":2002,"month":1,"date":1,"utc":true},{"year":2015,"month":1,"date":1,"utc":true}]},
      "axis": {"orient": "bottom", "title": "Year", "titlePadding": 7, "labelOffset": -29, "labelExpr": "utcyear(datum.value) > 2002 ? '' + (utcyear(datum.value) - 1) : ''", "values": [{"year":2002,"month":1,"date":1,"utc":true},{"year":2003,"month":1,"date":1,"utc":true},{"year":2004,"month":1,"date":1,"utc":true},{"year":2005,"month":1,"date":1,"utc":true},{"year":2006,"month":1,"date":1,"utc":true},{"year":2007,"month":1,"date":1,"utc":true},{"year":2008,"month":1,"date":1,"utc":true},{"year":2009,"month":1,"date":1,"utc":true},{"year":2010,"month":1,"date":1,"utc":true},{"year":2011,"month":1,"date":1,"utc":true},{"year":2012,"month":1,"date":1,"utc":true},{"year":2013,"month":1,"date":1,"utc":true},{"year":2014,"month":1,"date":1,"utc":true},{"year":2015,"month":1,"date":1,"utc":true}]}},
    "y": {"field": "low", "type": "quantitative", "scale": {"domain": [0, 20], "nice": false}, "axis": {"orient": "left", "values": [0,5,10,15,20], "title": null}},
    "y2": {"field": "high"}
   }},
  {"mark": {"type": "rule", "color": "#a4a4a8", "strokeWidth": 1.4},
   "encoding": {
    "x": {"field": "date", "type": "temporal", "axis": {"orient": "top", "labels": false, "title": null, "values": [{"year":2003,"month":1,"date":1,"utc":true},{"year":2004,"month":1,"date":1,"utc":true},{"year":2005,"month":1,"date":1,"utc":true},{"year":2006,"month":1,"date":1,"utc":true},{"year":2007,"month":1,"date":1,"utc":true},{"year":2008,"month":1,"date":1,"utc":true},{"year":2009,"month":1,"date":1,"utc":true},{"year":2010,"month":1,"date":1,"utc":true},{"year":2011,"month":1,"date":1,"utc":true},{"year":2012,"month":1,"date":1,"utc":true},{"year":2013,"month":1,"date":1,"utc":true},{"year":2014,"month":1,"date":1,"utc":true}]}},
    "y": {"field": "min", "type": "quantitative", "axis": {"orient": "right", "labels": false, "title": null, "values": [5,10,15]}},
    "y2": {"field": "peak"}
   }}
 ],
 "resolve": {"axis": {"x": "independent", "y": "independent"}}
}
]
}
